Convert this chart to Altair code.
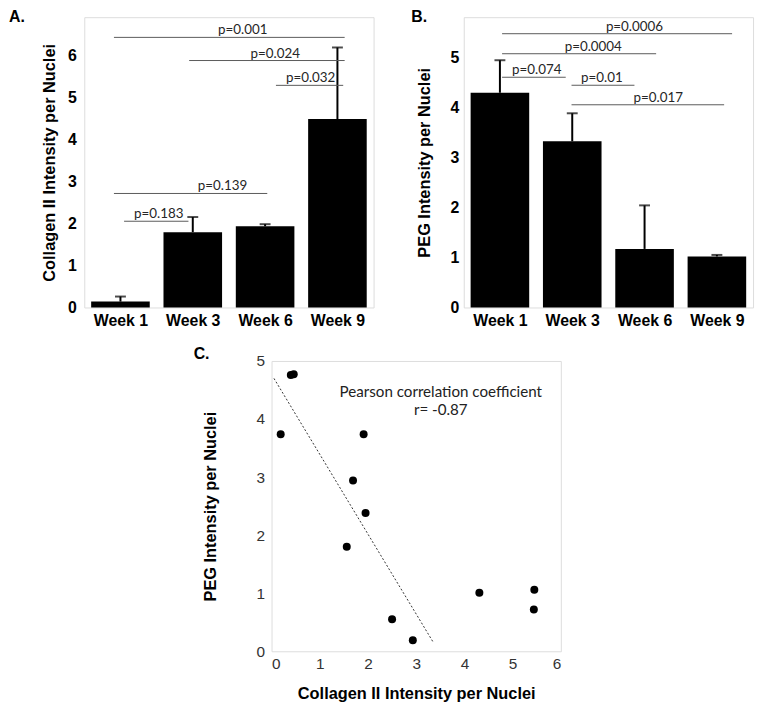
import json
import altair as alt
import pandas as pd

# ---------------- data ----------------
weeks = ["Week 1", "Week 3", "Week 6", "Week 9"]
week_pos = [0, 1, 2, 3]

col2_mean = [0.14, 1.79, 1.93, 4.48]
col2_err = [0.12, 0.36, 0.05, 1.70]

peg_mean = [4.29, 3.32, 1.17, 1.02]
peg_err = [0.65, 0.56, 0.87, 0.03]

# significance brackets (start / end in category units, height in data units)
a_labels = ["p=0.001", "p=0.024", "p=0.032", "p=0.139", "p=0.183"]
a_from = [-0.09, 0.95, 2.15, -0.09, 0.05]
a_to = [3.10, 3.10, 3.08, 2.03, 0.94]
a_y = [6.42, 5.87, 5.28, 2.71, 2.05]
a_text_at = [1.69, 2.14, 2.63, 1.41, 0.53]

b_labels = ["p=0.0006", "p=0.0004", "p=0.074", "p=0.01", "p=0.017"]
b_from = [0.03, 0.03, 0.03, 0.99, 0.99]
b_to = [3.21, 2.16, 0.91, 1.86, 3.10]
b_y = [5.47, 5.07, 4.60, 4.44, 4.05]
b_text_at = [1.86, 1.29, 0.51, 1.41, 2.19]

# scatter
scatter_collagen = [0.19, 0.40, 0.46, 1.56, 1.69, 1.91, 1.95, 2.50, 2.93, 4.31, 5.45, 5.44]
scatter_peg = [3.74, 4.76, 4.77, 1.80, 2.94, 3.74, 2.38, 0.55, 0.19, 1.01, 1.06, 0.72]
trend_collagen = [0.05, 3.35]
trend_peg = [4.70, 0.16]
note_lines = ["Pearson correlation coefficient", "r= -0.87"]
note_x = [3.51, 3.51]
note_y = [4.47, 4.15]

BOLD = "Liberation Sans"
SOFT = "Lato"
W, H = 292, 293


def bar_panel(means, errs, labels, x_from, x_to, y_at, text_at, ymax, yticks,
              ytitle, letter, letter_dx, label_pad, title_pad):
    df = pd.DataFrame({
        "week": weeks,
        "pos": week_pos,
        "mean": means,
        "top": [m + e for m, e in zip(means, errs)],
    })
    ann = pd.DataFrame({"label": labels, "x_from": x_from, "x_to": x_to,
                        "y": y_at, "tx": text_at})
    xscale = alt.Scale(domain=[-0.5, 3.5], nice=False, zero=False)
    yscale = alt.Scale(domain=[0, ymax], nice=False)
    xaxis = alt.Axis(values=week_pos, labelExpr=f"{json.dumps(weeks)}[datum.value]",
                     title=None, ticks=False, domain=False, grid=False,
                     labelFont=BOLD, labelFontSize=16, labelFontWeight="bold",
                     labelColor="black", labelPadding=5)
    yaxis = alt.Axis(values=yticks, title=ytitle, ticks=False, domain=False, grid=False,
                     labelFont=BOLD, labelFontSize=16, labelFontWeight="bold",
                     labelColor="black", labelPadding=label_pad,
                     titleFont=BOLD, titleFontSize=16.5, titleFontWeight="bold",
                     titleColor="black", titlePadding=title_pad)

    base = alt.Chart(df)
    bars = base.transform_calculate(
        x0="datum.pos - 0.405", x1="datum.pos + 0.405"
    ).mark_bar(color="black").encode(
        x=alt.X("x0:Q", scale=xscale, axis=xaxis),
        x2="x1:Q",
        y=alt.Y("mean:Q", scale=yscale, axis=yaxis),
        y2=alt.datum(0),
    )
    err = base.mark_rule(color="black", strokeWidth=2).encode(
        x=alt.X("pos:Q", scale=xscale, axis=xaxis),
        y=alt.Y("mean:Q", scale=yscale, axis=yaxis),
        y2="top:Q",
    )
    cap = base.mark_tick(color="black", orient="horizontal", size=11, thickness=2).encode(
        x=alt.X("pos:Q", scale=xscale, axis=xaxis),
        y=alt.Y("top:Q", scale=yscale, axis=yaxis),
    )
    lines = alt.Chart(ann).mark_rule(color="#5a5a5a", strokeWidth=1).encode(
        x=alt.X("x_from:Q", scale=xscale, axis=xaxis),
        x2="x_to:Q",
        y=alt.Y("y:Q", scale=yscale, axis=yaxis),
    )
    texts = alt.Chart(ann).mark_text(font=SOFT, fontSize=13.5, color="#262626",
                                     baseline="bottom", dy=0).encode(
        x=alt.X("tx:Q", scale=xscale, axis=xaxis),
        y=alt.Y("y:Q", scale=yscale, axis=yaxis),
        text="label:N",
    )
    return alt.layer(bars, err, cap, lines, texts).properties(
        width=W, height=H,
        title=alt.TitleParams(text=letter, anchor="start", frame="bounds",
                              dx=letter_dx, dy=12, font=BOLD, fontSize=16,
                              fontWeight="bold", color="black"),
    )


panel_a = bar_panel(col2_mean, col2_err, a_labels, a_from, a_to, a_y, a_text_at,
                    6.9, [0, 1, 2, 3, 4, 5, 6], "Collagen II Intensity per Nuclei",
                    "A.", -33, 8, 10)
panel_b = bar_panel(peg_mean, peg_err, b_labels, b_from, b_to, b_y, b_text_at,
                    5.8, [0, 1, 2, 3, 4, 5], "PEG Intensity per Nuclei",
                    "B.", -5, 5, 18)

# ---------------- panel C ----------------
cdf = pd.DataFrame({"collagen": scatter_collagen, "peg": scatter_peg})
tdf = pd.DataFrame({"collagen": trend_collagen, "peg": trend_peg})
ndf = pd.DataFrame({"txt": note_lines, "nx": note_x, "ny": note_y})

cx_scale = alt.Scale(domain=[0, 6], nice=False, zero=True)
cy_scale = alt.Scale(domain=[0, 5], nice=False, zero=True)
cx_axis = alt.Axis(values=[0, 1, 2, 3, 4, 5, 6], title="Collagen II Intensity per Nuclei",
                   ticks=False, domain=False, grid=False,
                   labelFont=BOLD, labelFontSize=15.5, labelColor="#333333", labelPadding=5,
                   titleFont=BOLD, titleFontSize=16.5, titleFontWeight="bold",
                   titleColor="black", titlePadding=14)
cy_axis = alt.Axis(values=[0, 1, 2, 3, 4, 5], title="PEG Intensity per Nuclei",
                   ticks=False, domain=False, grid=False,
                   labelFont=BOLD, labelFontSize=15.5, labelColor="#333333", labelPadding=7,
                   titleFont=BOLD, titleFontSize=16.5, titleFontWeight="bold",
                   titleColor="black", titlePadding=38)

pts = alt.Chart(cdf).mark_circle(color="black", size=65, opacity=1).encode(
    x=alt.X("collagen:Q", scale=cx_scale, axis=cx_axis),
    y=alt.Y("peg:Q", scale=cy_scale, axis=cy_axis),
)
trend = alt.Chart(tdf).mark_line(color="#333333", strokeWidth=1, strokeDash=[2, 2]).encode(
    x=alt.X("collagen:Q", scale=cx_scale, axis=cx_axis),
    y=alt.Y("peg:Q", scale=cy_scale, axis=cy_axis),
)
note = alt.Chart(ndf).mark_text(font=SOFT, fontSize=15.3, color="#222222").encode(
    x=alt.X("nx:Q", scale=cx_scale, axis=cx_axis),
    y=alt.Y("ny:Q", scale=cy_scale, axis=cy_axis),
    text="txt:N",
)
panel_c = alt.layer(trend, pts, note).properties(
    width=W, height=H,
    title=alt.TitleParams(text="C.", anchor="start", frame="bounds", dx=-9, dy=12,
                          font=BOLD, fontSize=16, fontWeight="bold", color="black"),
)

spacer = alt.Chart(pd.DataFrame({"s": [0]})).mark_point(opacity=0).encode(
    x=alt.X("s:Q", axis=None), y=alt.Y("s:Q", axis=None)
).properties(width=98, height=1, view=alt.ViewBackground(stroke="transparent"))

row1 = alt.hconcat(panel_a, panel_b, spacing=36)
row2 = alt.hconcat(spacer, panel_c, spacing=10)

chart = alt.vconcat(row1, row2, spacing=16).properties(
    padding={"left": 0, "top": -3, "right": 5, "bottom": 5}
).configure_view(stroke="#b3b3b3", strokeWidth=1.5).configure(background="white")

chart.save("out.html", embed_options={"renderer": "svg", "actions": False})
